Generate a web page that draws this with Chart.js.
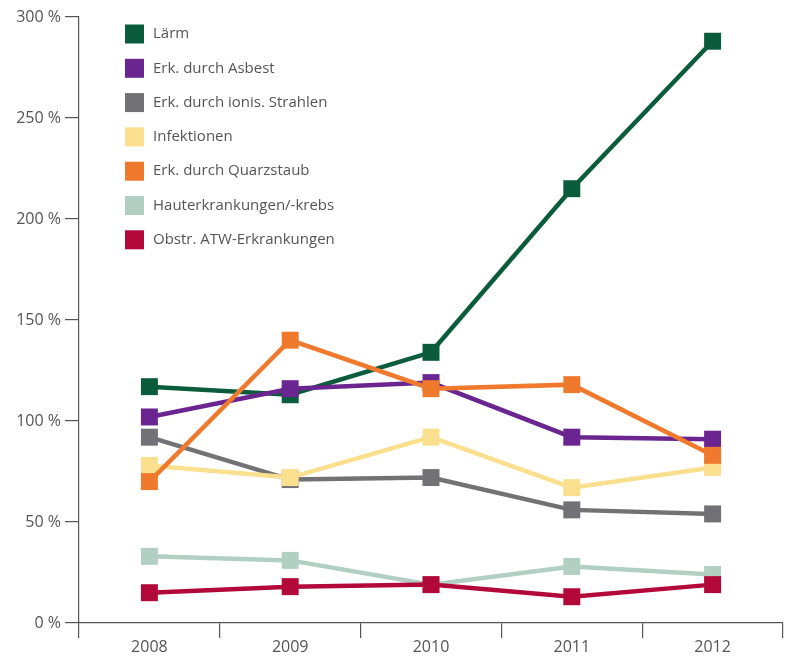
<!DOCTYPE html>
<html>
<head>
<meta charset="utf-8">
<script src="https://cdn.jsdelivr.net/npm/chart.js@4/dist/chart.umd.min.js"></script>
<style>
  html, body { margin: 0; padding: 0; background: #fff; }
  #wrap { width: 786px; height: 658px; }
</style>
</head>
<body>
<div id="wrap"><canvas id="chart" width="786" height="658"></canvas></div>
<script>
// categories and tick labels
const years = ['2008', '2009', '2010', '2011', '2012'];
const yTicks = [0, 50, 100, 150, 200, 250, 300];

// series values in %
const laerm      = [117, 113, 134, 215, 288];
const asbest     = [102, 116, 119, 92, 91];
const ionis      = [92, 71, 72, 56, 54];
const infektion  = [78, 72, 92, 67, 77];
const quarz      = [70, 140, 116, 118, 83];
const haut       = [33, 31, 19, 28, 24];
const atw        = [15, 18, 19, 13, 19];

const seriesNames = [
  'Lärm',
  'Erk. durch Asbest',
  'Erk. durch ionis. Strahlen',
  'Infektionen',
  'Erk. durch Quarzstaub',
  'Hauterkrankungen/-krebs',
  'Obstr. ATW-Erkrankungen'
];
const seriesData = [laerm, asbest, ionis, infektion, quarz, haut, atw];
const seriesColors = ['#0b5c3c', '#6a2590', '#727276', '#f9df8e', '#ef7a2e', '#b2cfc4', '#b3093a'];

const textColor = '#555';
const fontFamily = '"Open Sans", "DejaVu Sans", sans-serif';

// legend drawn inside the plot, top left
const boxLegend = {
  id: 'boxLegend',
  afterDraw(chart) {
    const ctx = chart.ctx;
    ctx.save();
    ctx.font = '15px ' + fontFamily;
    ctx.textBaseline = 'middle';
    chart.data.datasets.forEach((ds, i) => {
      const cy = 34 + i * 34.3;
      ctx.fillStyle = ds.borderColor;
      ctx.fillRect(125, cy - 9.5, 19, 19);
      ctx.fillStyle = textColor;
      ctx.fillText(ds.label, 153, cy);
    });
    ctx.restore();
  }
};

new Chart(document.getElementById('chart'), {
  type: 'line',
  data: {
    labels: years,
    datasets: seriesData.map((d, i) => ({
      label: seriesNames[i],
      data: d,
      borderColor: seriesColors[i],
      backgroundColor: seriesColors[i],
      borderWidth: 4.5,
      pointStyle: 'rect',
      pointRadius: 12,
      pointHoverRadius: 12,
      pointBorderWidth: 0,
      tension: 0,
      clip: false,
      order: seriesData.length - i
    }))
  },
  options: {
    responsive: false,
    animation: false,
    layout: { autoPadding: false, padding: { top: 17, right: 3, left: 0, bottom: 0 } },
    plugins: {
      legend: { display: false },
      tooltip: { enabled: false }
    },
    scales: {
      x: {
        offset: true,
        grid: {
          offset: true,
          drawOnChartArea: false,
          tickLength: 15,
          color: textColor,
          lineWidth: 1.2
        },
        border: { color: textColor, width: 1.2 },
        ticks: {
          color: textColor,
          font: { family: fontFamily, size: 16 },
          padding: 0
        },
        afterFit(scale) {
          scale.height = 35;
          scale.paddingLeft = 0;
          scale.paddingRight = 0;
        }
      },
      y: {
        min: 0,
        max: 300,
        afterBuildTicks(scale) { scale.ticks = yTicks.map(v => ({ value: v })); },
        grid: {
          drawOnChartArea: false,
          tickLength: 14,
          color: textColor,
          lineWidth: 1.2
        },
        border: { color: textColor, width: 1.2 },
        ticks: {
          color: textColor,
          font: { family: fontFamily, size: 16 },
          padding: 4,
          callback: v => v + ' %'
        },
        afterFit(scale) { scale.width = 79; }
      }
    }
  },
  plugins: [boxLegend]
});
</script>
</body>
</html>
